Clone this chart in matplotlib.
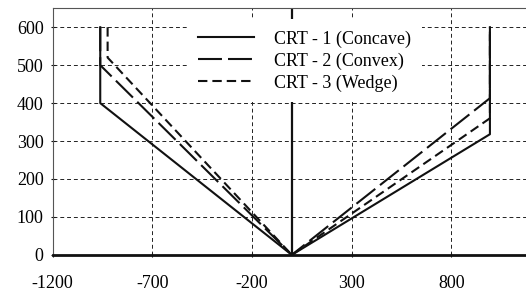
import matplotlib.pyplot as plt

plt.rcParams['font.family'] = ['Liberation Serif', 'DejaVu Serif']
plt.rcParams['axes.unicode_minus'] = False

# Profile data (x offset, depth)
crt1_x = [-961, -961, 0, 994, 994]
crt1_y = [600, 400, 0, 318, 600]
crt2_x = [-961, -961, 0, 994, 994]
crt2_y = [600, 500, 0, 413, 600]
crt3_x = [-924, -924, 0, 994, 994]
crt3_y = [600, 520, 0, 360, 600]

labels = ['CRT - 1 (Concave)', 'CRT - 2 (Convex)', 'CRT - 3 (Wedge)']
xticks = [-1200, -700, -200, 300, 800]
yticks = [0, 100, 200, 300, 400, 500, 600]

fig = plt.figure(figsize=(5.26, 2.95), dpi=100)
ax = fig.add_axes([0.1, 0.136, 0.9, 0.836])

ax.plot(crt1_x, crt1_y, color='#111111', lw=1.5, label=labels[0])
ax.plot(crt2_x, crt2_y, color='#111111', lw=1.5, dashes=(11.5, 2.9), label=labels[1])
ax.plot(crt3_x, crt3_y, color='#111111', lw=1.5, dashes=(4.5, 2.4), label=labels[2])

# vertical axis line at x = 0
ax.axvline(0, color='#111111', lw=1.6, zorder=1)

ax.set_xlim(-1200, 1175)
ax.set_ylim(0, 650)
ax.set_xticks(xticks)
ax.set_yticks(yticks)
ax.tick_params(labelsize=13, length=3, width=0.8, direction='inout', color='#111111')
ax.tick_params(axis='x', pad=13)
ax.tick_params(axis='y', pad=5)

ax.grid(True, color='#222222', lw=0.7, linestyle=(0, (4, 3)))
ax.set_axisbelow(True)

for s in ['top', 'left']:
    ax.spines[s].set_linewidth(0.8)
    ax.spines[s].set_color('#555555')
ax.spines['right'].set_visible(False)
ax.spines['bottom'].set_linewidth(2)
ax.spines['bottom'].set_color('#111111')

leg = ax.legend(loc='upper left', bbox_to_anchor=(0.2845, 0.955), fontsize=13,
                handlelength=3.1, handletextpad=1.1, labelspacing=0.26,
                borderpad=0.6, borderaxespad=0, frameon=True, fancybox=False)
leg.get_frame().set_edgecolor('none')
leg.get_frame().set_facecolor('white')
leg.get_frame().set_alpha(1)

fig.savefig('out.png', dpi=100)
